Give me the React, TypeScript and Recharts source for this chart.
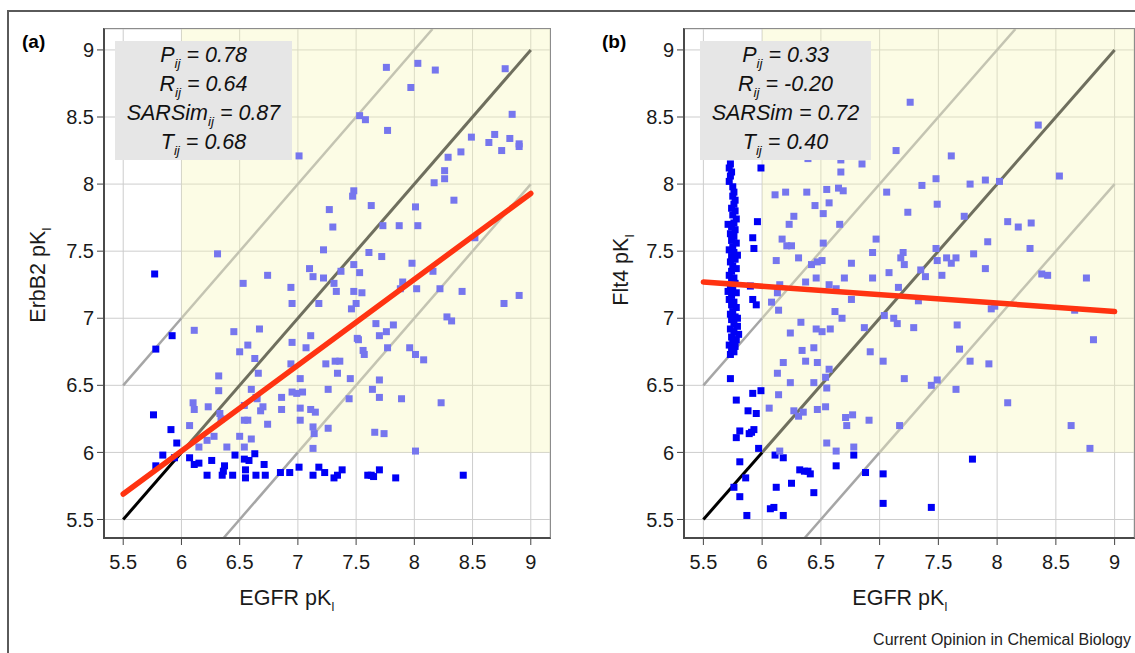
import React from 'react';
import { ScatterChart, Scatter, XAxis, YAxis, CartesianGrid, ReferenceArea } from 'recharts';

const ticks = [5.5, 6, 6.5, 7, 7.5, 8, 8.5, 9];
const xDomain: [number, number] = [5.335, 9.165];
const yDomain: [number, number] = [5.362, 9.156];
const cutoff = 6;

// (a) EGFR vs ErbB2 pKi
const pointsA: number[][] = [
  [7.76, 8.87], [8.03, 8.9], [8.18, 8.85], [7.97, 8.72], [8.78, 8.86], [7.53, 8.51], [7.58, 8.48], [7.77, 8.4],
  [8.84, 8.52], [8.49, 8.35], [8.69, 8.37], [8.64, 8.31], [8.82, 8.34], [8.75, 8.25], [8.9, 8.28], [8.9, 8.3],
  [8.4, 8.24], [8.29, 8.2], [8.26, 8.1], [8.26, 8.04], [8.17, 8.01], [8.34, 7.88], [7.01, 8.21], [7.48, 7.95],
  [7.47, 7.91], [7.63, 7.84], [8.01, 7.83], [7.27, 7.81], [7.3, 7.68], [7.73, 7.69], [7.87, 7.69], [8.03, 7.69],
  [8.52, 7.6], [7.22, 7.51], [7.61, 7.49], [7.72, 7.46], [6.31, 7.48], [5.77, 7.33], [6.53, 7.26], [6.74, 7.32],
  [7.1, 7.37], [7.13, 7.31], [7.22, 7.3], [7.37, 7.35], [7.48, 7.4], [7.53, 7.34], [7.31, 7.26], [6.94, 7.23],
  [7.33, 7.2], [7.48, 7.2], [7.55, 7.19], [7.98, 7.41], [8.16, 7.35], [7.9, 7.27], [7.88, 7.22], [8.02, 7.22],
  [8.22, 7.22], [8.41, 7.2], [6.95, 7.11], [7.18, 7.11], [7.5, 7.11], [7.46, 7.07], [8.77, 7.11], [8.9, 7.17],
  [8.28, 7.01], [8.32, 6.98], [7.67, 6.96], [7.82, 6.95],
  [5.78, 6.77], [5.92, 6.87], [6.11, 6.91], [6.45, 6.9], [6.67, 6.92], [6.57, 6.8], [6.5, 6.75], [6.63, 6.7],
  [6.66, 6.59], [6.32, 6.57], [6.32, 6.46], [6.95, 6.82], [7.11, 6.87], [7.07, 6.78], [6.94, 6.66], [7.24, 6.66],
  [7.32, 6.68], [7.36, 6.68], [7.34, 6.59], [7.45, 6.55], [7.02, 6.55], [7.51, 6.85], [7.52, 6.84], [7.56, 6.76],
  [7.57, 6.73], [7.7, 6.87], [7.76, 6.9], [7.77, 6.78], [7.96, 6.78], [8.01, 6.73], [8.08, 6.69], [7.7, 6.54],
  [7.64, 6.47], [7.7, 6.41], [7.89, 6.4], [8.23, 6.37], [7.66, 6.15], [7.74, 6.14], [8.01, 6.01], [7.44, 6.4],
  [7.26, 6.47], [7.26, 6.18], [7.13, 6.19], [7.13, 6.03], [7.14, 6.14], [7.15, 6.3], [7.11, 6.32], [7.02, 6.33],
  [7.04, 6.45], [6.95, 6.45], [6.99, 6.44], [6.86, 6.41], [6.86, 6.32], [6.74, 6.21], [6.68, 6.31], [6.7, 6.34],
  [6.65, 6.4], [6.6, 6.47], [6.57, 6.24], [6.54, 6.24], [6.6, 6.1], [6.5, 6.12], [6.54, 6.04], [6.39, 6.04],
  [6.54, 6.35], [6.33, 6.29], [6.34, 6.25], [6.23, 6.34], [6.28, 6.12], [6.22, 6.09], [6.15, 6.04], [6.1, 6.37],
  [6.11, 6.32], [6.07, 6.2], [7.02, 6.24], [6.64, 6.41],
  [5.76, 6.28], [5.91, 6.17], [5.96, 6.07], [5.84, 5.98], [5.78, 5.9], [5.94, 5.96], [6.07, 5.96], [6.11, 5.91],
  [6.15, 5.92], [6.26, 5.94], [6.22, 5.83], [6.35, 5.83], [6.37, 5.9], [6.36, 5.86], [6.44, 5.83], [6.46, 5.98],
  [6.54, 5.95], [6.58, 5.94], [6.55, 5.87], [6.55, 5.81], [6.64, 5.83], [6.63, 5.99], [6.71, 5.91], [6.72, 5.83],
  [6.85, 5.85], [6.93, 5.85], [7.01, 5.89], [7.13, 5.83], [7.18, 5.89], [7.23, 5.85], [7.31, 5.81], [7.34, 5.83],
  [7.38, 5.87], [7.6, 5.83], [7.63, 5.83], [7.65, 5.82], [7.7, 5.87], [7.84, 5.81], [8.42, 5.83],
];
const fitA: number[][] = [[5.5, 5.69], [9, 7.93]];

// (b) EGFR vs Flt4 pKi
const pointsB: number[][] = [
  [7.26, 8.61], [8.35, 8.44], [7.14, 8.25], [7.61, 8.21], [6.85, 8.15], [6.67, 8.09], [6.39, 8.19], [6.67, 8.18],
  [8.53, 8.06], [7.36, 7.99], [7.48, 8.04], [7.77, 8.0], [7.9, 8.03], [8.02, 8.02], [6.11, 7.92], [6.2, 7.94],
  [6.38, 7.94], [6.55, 7.96], [6.65, 7.97], [6.69, 7.95], [7.06, 7.94], [6.45, 7.84], [6.57, 7.86], [6.52, 7.78],
  [6.27, 7.76], [6.23, 7.7], [6.66, 7.7], [7.24, 7.79], [7.49, 7.85], [7.72, 7.76], [8.09, 7.72], [8.18, 7.68],
  [8.29, 7.71], [6.17, 7.59], [6.21, 7.54], [6.25, 7.54], [6.52, 7.56], [6.97, 7.59], [7.92, 7.57], [8.28, 7.52],
  [7.48, 7.52], [6.12, 7.43], [6.31, 7.45], [6.42, 7.4], [6.47, 7.42], [6.51, 7.43], [6.76, 7.41], [6.94, 7.49],
  [7.2, 7.49], [7.18, 7.45], [7.21, 7.4], [7.49, 7.43], [7.57, 7.45], [7.65, 7.45], [7.61, 7.41], [7.8, 7.48],
  [7.9, 7.37], [7.35, 7.36], [7.39, 7.31], [7.53, 7.32], [7.08, 7.34], [6.94, 7.3], [6.7, 7.3], [6.46, 7.3],
  [6.37, 7.27], [8.38, 7.33], [8.43, 7.32], [8.76, 7.3], [6.15, 7.25], [6.13, 7.19], [6.08, 7.12], [6.14, 7.06],
  [6.57, 7.25], [6.63, 7.22], [7.16, 7.23], [6.76, 7.14], [7.33, 7.13], [7.95, 7.07], [7.98, 7.09], [8.66, 7.06],
  [6.62, 7.05], [6.68, 7.0], [7.04, 7.02], [7.12, 7.0], [7.15, 6.96], [6.33, 6.97], [7.29, 6.93], [7.66, 6.95],
  [6.87, 6.93], [6.24, 6.89], [6.46, 6.92], [6.51, 6.9], [6.58, 6.92], [6.34, 6.76], [6.44, 6.78], [6.37, 6.68],
  [6.47, 6.67], [6.18, 6.67], [6.13, 6.59], [6.57, 6.62], [6.54, 6.56], [6.24, 6.52], [6.44, 6.52], [6.55, 6.48],
  [6.14, 6.43], [6.06, 6.33], [6.27, 6.31], [6.35, 6.3], [6.31, 6.27], [6.47, 6.32], [6.54, 6.34], [6.71, 6.26],
  [6.77, 6.28], [6.72, 6.2], [6.91, 6.24], [6.92, 6.75], [7.03, 6.68], [7.21, 6.55], [7.44, 6.5], [7.49, 6.54],
  [7.65, 6.47], [7.68, 6.77], [7.77, 6.68], [7.93, 6.66], [8.09, 6.37], [7.17, 6.2], [8.63, 6.2], [8.79, 6.03],
  [8.82, 6.84], [6.55, 6.07], [6.78, 6.04], [6.15, 6.01], [6.63, 6.01],
  [5.73, 8.15], [5.72, 8.12], [5.74, 8.09], [5.73, 8.06], [5.72, 8.02], [5.75, 7.98], [5.76, 7.94], [5.75, 7.91],
  [5.77, 7.88], [5.76, 7.85], [5.74, 7.82], [5.77, 7.8], [5.75, 7.77], [5.78, 7.74], [5.76, 7.71], [5.71, 7.7],
  [5.74, 7.68], [5.77, 7.66], [5.73, 7.63], [5.76, 7.61], [5.74, 7.58], [5.78, 7.56], [5.75, 7.53], [5.72, 7.51],
  [5.76, 7.49], [5.79, 7.47], [5.74, 7.46], [5.77, 7.44], [5.73, 7.42], [5.75, 7.39], [5.78, 7.37], [5.74, 7.35],
  [5.72, 7.32], [5.76, 7.3], [5.74, 7.28], [5.77, 7.26], [5.73, 7.24], [5.75, 7.21], [5.71, 7.2], [5.78, 7.19],
  [5.74, 7.17], [5.72, 7.14], [5.76, 7.12], [5.74, 7.1], [5.78, 7.08], [5.75, 7.05], [5.73, 7.03], [5.77, 7.01],
  [5.79, 7.0], [5.74, 6.99], [5.76, 6.96], [5.79, 6.94], [5.73, 6.92], [5.76, 6.9], [5.8, 6.88], [5.74, 6.86],
  [5.78, 6.84], [5.75, 6.82], [5.72, 6.8], [5.77, 6.79], [5.74, 6.77], [5.76, 6.75], [5.73, 6.73],
  [5.96, 7.72], [5.92, 7.6], [5.93, 7.52], [5.9, 7.24], [5.92, 7.14], [5.95, 7.1], [5.99, 8.12], [5.73, 6.55],
  [5.78, 6.39], [5.92, 6.44], [5.99, 6.46], [5.88, 6.31], [5.95, 6.29], [5.81, 6.16], [5.78, 6.11], [5.89, 6.14],
  [5.91, 6.15], [5.93, 6.17], [5.97, 6.03], [5.81, 5.93], [5.86, 5.81], [5.76, 5.74], [5.81, 5.67], [5.87, 5.53],
  [6.11, 5.98], [6.18, 5.96], [6.32, 5.87], [6.36, 5.86], [6.39, 5.86], [6.41, 5.84], [6.25, 5.77], [6.12, 5.74],
  [6.44, 5.7], [6.07, 5.58], [6.1, 5.59], [6.18, 5.53], [6.63, 5.9], [6.78, 5.98], [6.88, 5.85], [7.03, 5.84],
  [7.03, 5.62], [7.79, 5.95], [7.44, 5.59],
];
const fitB: number[][] = [[5.5, 7.27], [9, 7.05]];

// reference lines: identity and +/- 1 log unit
const identityLow: number[][] = [[5.5, 5.5], [6, 6]];
const identityHigh: number[][] = [[6, 6], [9, 9]];
const upperWhite: number[][] = [[5.5, 6.5], [6, 7]];
const upperYellow: number[][] = [[6, 7], [8.156, 9.156]];
const lowerWhite: number[][] = [[6.362, 5.362], [7, 6]];
const lowerYellow: number[][] = [[7, 6], [9, 8]];

const statsA = [
  { name: 'P', sub: 'ij', value: '0.78' },
  { name: 'R', sub: 'ij', value: '0.64' },
  { name: 'SARSim', sub: 'ij', value: '0.87' },
  { name: 'T', sub: 'ij', value: '0.68' },
];
const statsB = [
  { name: 'P', sub: 'ij', value: '0.33' },
  { name: 'R', sub: 'ij', value: '-0.20' },
  { name: 'SARSim', sub: '', value: '0.72' },
  { name: 'T', sub: 'ij', value: '0.40' },
];

const FONT = "'Liberation Sans', Arial, Helvetica, sans-serif";
const LIGHT = '#7676ee';
const BLUE = '#0000f5';

const toXY = (rows: number[][]) => rows.map(([x, y]) => ({ x, y }));
const inside = (p: { x: number; y: number }) => p.x >= cutoff && p.y >= cutoff;

const square = (fill: string) => (props: any) => {
  const { cx, cy } = props;
  if (cx == null || cy == null) return <g />;
  return <rect x={cx - 3.5} y={cy - 3.5} width={7} height={7} fill={fill} />;
};
const noDot = () => <g />;

const segment = (rows: number[][], stroke: string, width: number, cap = 'butt') => (
  <Scatter
    data={toXY(rows)}
    line={{ stroke, strokeWidth: width, strokeLinecap: cap }}
    shape={noDot}
    legendType="none"
    isAnimationActive={false}
  />
);

const Sub = ({ children, size = 12 }: { children: React.ReactNode; size?: number }) => (
  <span style={{ fontSize: size, lineHeight: 0, position: 'relative', top: 6 }}>{children}</span>
);

interface PanelProps {
  tag: string;
  points: number[][];
  fit: number[][];
  stats: typeof statsA;
  yName: string;
  left: number;
  width: number;
  marginRight: number;
  boxLeft: number;
  boxWidth: number;
  yTitleX: number;
  yTitleY: number;
  xTitleX: number;
}

const Panel: React.FC<PanelProps> = (p) => {
  const data = toXY(p.points);
  const light = data.filter(inside);
  const dark = data.filter((d) => !inside(d));
  const plotLeft = p.left + 104;
  const plotWidth = p.width - 104 - p.marginRight;
  const tick = { fontSize: 20, fill: '#1a1a1a', fontFamily: FONT };

  return (
    <>
      <div style={{ position: 'absolute', left: p.left, top: 0 }}>
        <ScatterChart width={p.width} height={640} margin={{ top: 29, right: p.marginRight, bottom: 62, left: 44 }}>
          <CartesianGrid stroke="#cdcdcd" strokeWidth={1} />
          <ReferenceArea x1={cutoff} x2={xDomain[1]} y1={cutoff} y2={yDomain[1]} fill="#f6f6b4" fillOpacity={0.35} stroke="none" ifOverflow="hidden" />
          <XAxis
            type="number"
            dataKey="x"
            domain={xDomain}
            ticks={ticks}
            interval={0}
            allowDataOverflow
            axisLine={false}
            tickLine={{ stroke: '#444' }}
            tickSize={7}
            tickMargin={10}
            height={40}
            tick={tick}
          />
          <YAxis
            type="number"
            dataKey="y"
            domain={yDomain}
            ticks={ticks}
            interval={0}
            allowDataOverflow
            axisLine={false}
            tickLine={{ stroke: '#444' }}
            tickSize={7}
            tickMargin={3}
            width={60}
            tick={tick}
          />
          {segment(upperWhite, '#a6a6a6', 2.5)}
          {segment(upperYellow, '#c4c4b2', 2.5)}
          {segment(lowerWhite, '#a6a6a6', 2.5)}
          {segment(lowerYellow, '#c4c4b2', 2.5)}
          {segment(identityHigh, '#6f6f5e', 3)}
          {segment(identityLow, '#000000', 3)}
          <Scatter data={dark} shape={square(BLUE)} isAnimationActive={false} />
          <Scatter data={light} shape={square(LIGHT)} isAnimationActive={false} />
          {segment(p.fit, '#ff3311', 5.5, 'round')}
        </ScatterChart>
      </div>

      <div
        style={{
          position: 'absolute',
          left: plotLeft - 1,
          top: 28,
          width: plotWidth + 2,
          height: 511,
          boxSizing: 'border-box',
          borderLeft: '2px solid #4a4a4a',
          borderBottom: '2px solid #4a4a4a',
          borderTop: '1.5px solid #8c8c8c',
          borderRight: '1.5px solid #8c8c8c',
          pointerEvents: 'none',
        }}
      />

      <div
        style={{
          position: 'absolute',
          left: p.boxLeft,
          top: 41,
          width: p.boxWidth,
          height: 119,
          background: '#e6e6e6',
          fontStyle: 'italic',
          fontSize: 21.5,
          lineHeight: '29px',
          textAlign: 'center',
          color: '#111',
        }}
      >
        {p.stats.map((s) => (
          <div key={s.name} style={{ height: 29 }}>
            {s.name}
            {s.sub ? <Sub size={13.5}>{s.sub}</Sub> : null} = {s.value}
          </div>
        ))}
      </div>

      <div style={{ position: 'absolute', left: p.left + 22, top: 31, fontSize: 19, fontWeight: 'bold', lineHeight: '22px' }}>
        {p.tag}
      </div>

      <div
        style={{
          position: 'absolute',
          left: p.yTitleX - 100,
          top: p.yTitleY - 12,
          width: 200,
          height: 24,
          lineHeight: '24px',
          fontSize: 21.5,
          textAlign: 'center',
          transform: 'rotate(-90deg)',
          color: '#1a1a1a',
        }}
      >
        {p.yName} pK<Sub>I</Sub>
      </div>

      <div
        style={{
          position: 'absolute',
          left: p.xTitleX - 100,
          top: 586,
          width: 200,
          height: 24,
          lineHeight: '24px',
          fontSize: 21.5,
          textAlign: 'center',
          color: '#1a1a1a',
        }}
      >
        EGFR pK<Sub>I</Sub>
      </div>
    </>
  );
};

export default function App() {
  return (
    <div
      style={{
        position: 'absolute',
        left: 0,
        top: 0,
        width: 1135,
        height: 653,
        overflow: 'hidden',
        background: '#fff',
        fontFamily: FONT,
      }}
    >
      <div
        style={{
          position: 'absolute',
          left: 7,
          top: 10,
          width: 1128,
          height: 643,
          borderLeft: '2px solid #5a5a5a',
          borderTop: '2px solid #5a5a5a',
        }}
      />
      <Panel
        tag="(a)"
        points={pointsA}
        fit={fitA}
        stats={statsA}
        yName="ErbB2"
        left={0}
        width={560}
        marginRight={10}
        boxLeft={115}
        boxWidth={177}
        yTitleX={38}
        yTitleY={275}
        xTitleX={287}
      />
      <Panel
        tag="(b)"
        points={pointsB}
        fit={fitB}
        stats={statsB}
        yName="Flt4"
        left={580}
        width={555}
        marginRight={1}
        boxLeft={700}
        boxWidth={171}
        yTitleX={621}
        yTitleY={270}
        xTitleX={900}
      />
      <div style={{ position: 'absolute', right: 4, top: 631, fontSize: 16, lineHeight: '18px', color: '#222' }}>
        Current Opinion in Chemical Biology
      </div>
    </div>
  );
}
